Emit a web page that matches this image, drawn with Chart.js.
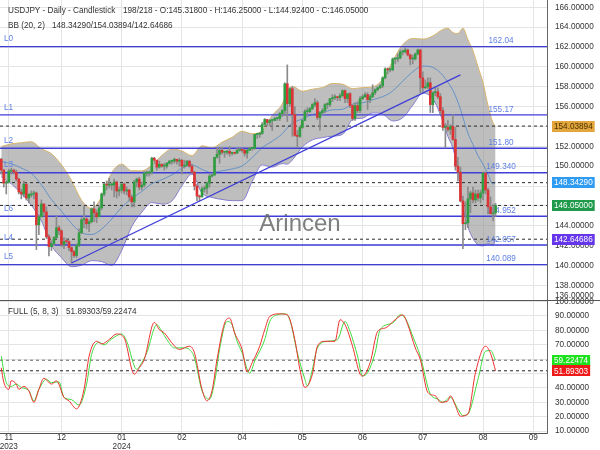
<!DOCTYPE html>
<html>
<head>
<meta charset="utf-8">
<title>USDJPY Daily Candlestick</title>
<script src="https://cdn.jsdelivr.net/npm/chart.js@4.4.1/dist/chart.umd.min.js"></script>
<style>
html,body{margin:0;padding:0;background:#ffffff;overflow:hidden;}
#c{display:block;}
</style>
</head>
<body>
<canvas id="c" width="600" height="450"></canvas>
<script>
// ---------------- DATA ----------------
const symbolTitle = "USDJPY - Daily - Candlestick";
const totalSlots = 218;

const opens = [
150.7,149.6,148.3,148.4,149.5,149.6,149.4,148.7,147.4,147.2,
148.2,146.8,147.1,147.2,147.3,144.1,144.9,146.2,145.4,142.9,
141.9,142.2,142.8,143.8,143.5,142.1,142.5,142.4,141.8,141.4,
141.0,142.0,143.3,144.6,144.7,144.2,144.4,145.7,145.3,144.9,
145.8,147.2,148.2,148.1,148.1,148.1,148.4,147.5,147.6,148.2,
147.5,147.6,146.9,146.4,148.4,148.7,147.9,148.1,149.3,149.3,
149.4,150.8,150.6,149.9,150.2,150.0,150.0,150.3,150.5,150.5,
150.7,150.5,150.6,150.0,150.1,150.5,150.0,149.4,148.0,147.0,
146.9,147.7,147.8,148.3,149.0,149.1,150.9,151.2,151.6,151.4,
151.4,151.5,151.3,151.35,151.3,151.6,151.65,151.6,151.3,151.6,
151.8,151.8,153.2,153.2,153.3,154.2,154.7,154.4,154.6,154.6,
154.8,154.8,155.3,155.6,158.3,156.3,157.8,155.2,153.1,153.0,
153.9,154.6,155.5,155.5,155.8,156.2,156.4,154.9,155.4,155.6,
156.2,156.2,156.8,156.9,157.0,156.9,157.1,157.6,156.8,157.3,
156.1,154.8,156.1,155.6,156.8,157.0,157.2,156.7,157.0,157.4,
157.7,157.9,158.1,158.9,159.8,159.7,159.7,160.8,160.8,160.9,
161.5,161.5,161.7,161.2,160.8,160.8,161.3,161.7,158.9,157.9,
158.0,158.4,156.2,157.4,157.5,157.0,155.6,153.9,153.9,153.7,
154.0,152.7,150.0,149.4,146.5,144.2,144.3,146.7,147.3,146.6,
147.2,146.8,147.3,149.3,147.6,145.9,145.2,145.318];

const highs = [
150.8,149.7,148.5,149.7,149.8,149.7,149.6,148.8,147.7,148.5,
148.3,147.2,147.5,147.5,147.4,145.1,146.6,146.2,145.9,143.1,
142.5,142.9,144.95,144.0,143.6,142.8,142.7,142.5,141.9,141.5,
142.2,143.7,144.8,145.98,144.8,144.6,145.8,146.4,145.6,146.0,
147.3,148.3,148.5,148.8,148.3,148.7,148.5,147.9,148.2,148.3,
147.9,147.7,147.1,148.6,148.8,148.9,148.4,149.5,149.5,149.5,
150.9,150.9,150.6,150.5,150.2,150.3,150.4,150.6,150.6,150.8,
150.7,150.8,150.7,150.6,150.6,150.6,150.2,149.5,148.2,147.1,
147.9,148.0,148.4,149.2,149.2,150.9,151.8,151.9,151.9,151.5,
151.6,151.97,151.4,151.4,151.8,151.8,151.8,151.7,151.7,151.9,
151.9,153.2,153.3,153.4,154.4,154.8,154.7,154.7,154.7,154.9,
154.9,155.4,155.7,158.4,160.2,157.9,158.0,156.0,153.6,154.0,
154.7,155.7,155.9,155.9,156.3,156.8,156.6,155.5,155.8,156.3,
156.4,156.8,157.2,157.2,157.0,157.3,157.7,157.7,157.3,157.4,
156.2,156.4,156.5,157.0,157.2,157.4,157.4,157.2,158.2,157.8,
158.0,158.2,159.0,159.9,159.9,159.9,160.9,160.9,161.3,161.7,
161.7,161.95,161.8,161.3,161.2,161.4,161.8,161.8,159.5,158.7,
158.9,158.9,157.5,157.9,157.9,157.3,155.9,154.3,154.6,154.2,
155.2,153.9,150.9,149.9,147.0,146.4,147.9,147.5,147.9,147.6,
147.6,147.6,149.4,149.4,147.8,146.9,146.1,146.25];

const lows = [
149.2,147.9,147.2,148.3,149.2,149.2,148.5,147.2,146.7,146.9,
146.6,146.3,146.9,146.7,141.6,143.1,144.9,145.0,142.7,140.97,
141.5,142.0,142.7,143.1,141.9,141.7,142.2,141.5,140.25,140.8,
140.8,141.9,143.2,143.8,143.7,143.4,144.3,144.4,144.3,144.9,
145.6,147.0,147.6,147.8,147.6,146.9,146.8,147.0,147.3,147.2,
147.1,146.5,145.9,145.9,147.9,147.6,147.6,147.9,149.0,149.0,
149.2,150.3,149.6,149.8,149.9,149.6,149.8,150.2,150.2,150.3,
150.2,150.0,149.2,149.8,150.0,149.9,149.3,147.6,146.5,146.5,
146.9,147.4,147.2,147.9,148.9,149.1,150.8,150.3,151.2,150.9,
151.2,151.0,151.1,151.2,151.3,151.5,151.4,151.0,150.8,151.6,
151.6,151.7,152.8,152.9,153.2,154.1,154.1,154.1,153.6,154.6,
154.6,154.6,155.0,155.1,154.5,156.0,153.0,153.0,151.9,152.9,
153.8,154.6,155.1,155.4,155.7,156.0,154.7,153.6,155.2,155.4,
155.8,156.0,156.5,156.7,156.6,156.6,157.0,156.4,156.4,155.9,
154.6,154.6,155.4,155.4,156.7,156.9,155.7,156.4,156.9,157.2,
157.6,157.8,157.9,158.8,159.3,159.5,159.6,160.3,160.5,160.8,
161.2,161.4,161.1,160.2,160.3,160.7,161.2,157.4,157.4,157.8,
157.8,155.4,155.4,157.1,156.8,155.2,153.6,151.9,153.5,153.2,
152.6,149.6,148.5,146.4,141.7,143.6,143.8,145.3,146.3,146.3,
146.5,146.3,146.6,147.2,145.2,145.2,144.5,144.924];

const closes = [
149.6,148.3,148.4,149.5,149.6,149.4,148.7,147.4,147.2,148.2,
146.8,147.2,147.2,147.3,144.1,144.9,146.2,145.4,142.9,141.9,
142.2,142.8,143.8,143.5,142.1,142.4,142.4,141.8,141.4,141.0,
142.0,143.3,144.6,144.7,144.2,144.4,145.7,145.3,144.9,145.8,
147.2,148.2,148.1,148.1,148.1,148.4,147.5,147.6,148.2,147.5,
147.6,146.9,146.4,148.4,148.7,147.9,148.1,149.3,149.3,149.4,
150.8,150.6,149.9,150.2,150.0,150.0,150.3,150.5,150.5,150.7,
150.5,150.6,150.0,150.1,150.5,150.0,149.4,148.0,147.0,146.9,
147.7,147.8,148.3,149.0,149.1,150.9,151.2,151.6,151.4,151.4,
151.5,151.3,151.3,151.3,151.6,151.6,151.6,151.3,151.6,151.8,
151.8,153.2,153.2,153.3,154.2,154.7,154.4,154.6,154.6,154.8,
154.8,155.3,155.6,158.3,156.3,157.8,155.2,153.1,153.0,153.9,
154.6,155.5,155.5,155.8,156.2,156.4,154.9,155.4,155.6,156.2,
156.2,156.8,156.9,157.0,156.9,157.1,157.6,156.8,157.3,156.1,
154.8,156.1,155.6,156.8,157.0,157.2,156.7,157.0,157.4,157.7,
157.9,158.1,158.9,159.8,159.7,159.7,160.8,160.8,160.9,161.5,
161.5,161.7,161.2,160.8,160.8,161.3,161.7,158.9,157.9,158.0,
158.4,156.2,157.4,157.5,157.0,155.6,153.9,153.9,153.7,154.0,
152.7,150.0,149.4,146.5,144.2,144.3,146.7,147.3,146.6,147.2,
146.8,147.3,149.3,147.6,145.9,145.2,145.3,146.05];

const bbIdx = [0,4,8,12,16,20,24,28,32,36,40,44,48,52,56,60,64,68,72,76,80,84,88,92,96,100,104,108,112,114,116,120,124,128,132,136,140,144,148,152,156,160,164,168,172,176,178,180,182,184,186,188,190,192,194,196,197];
const bbUpper = [151.98,152.25,152.36,152.46,151.75,151.25,150.13,148.57,146.57,145.75,146.92,149.34,150.20,149.54,149.53,150.11,151.08,151.73,151.54,151.06,152.05,151.84,152.42,152.91,153.52,153.27,153.57,155.12,156.27,157.49,158.05,157.55,157.75,157.92,158.33,158.26,157.81,157.91,157.98,158.75,160.58,162.24,162.87,162.80,163.12,163.77,163.89,163.45,163.36,163.88,162.73,161.62,160.01,158.41,156.09,154.35,154.03894];
const bbMid = [150.46,150.24,149.81,149.27,148.12,146.64,145.46,144.23,143.30,143.12,143.66,144.68,145.86,146.74,147.45,148.23,148.64,149.12,149.79,150.13,149.67,149.35,149.54,149.72,150.03,150.87,151.86,152.52,153.27,153.85,154.34,154.75,155.20,155.40,155.68,155.73,156.25,156.38,156.68,157.00,157.57,158.56,159.51,160.08,159.95,159.15,158.45,157.63,156.46,154.91,153.31,152.17,151.05,150.20,149.15,148.20,148.34290];
const bbLower = [148.93,148.22,147.25,146.07,144.49,142.03,140.79,139.88,140.03,140.49,140.40,140.01,141.52,143.93,145.36,146.34,146.19,146.50,148.03,149.20,147.29,146.85,146.65,146.53,146.53,148.47,150.14,149.91,150.26,150.21,150.63,151.94,152.65,152.88,153.03,153.20,154.69,154.84,155.37,155.25,154.56,154.87,156.14,157.36,156.78,154.53,153.00,151.81,149.55,145.94,143.89,142.72,142.08,141.98,142.20,142.04,142.64686];

// Horizontal levels
const levelNames  = ['L0','L1','L2','L3','L6','L4','L5'];
const levelValues = [162.04,155.17,151.80,149.340,144.952,142.057,140.089];
const levelTexts  = ['162.04','155.17','151.80','149.340','144.952','142.057','140.089'];

// Trend line (bar index, price)
const trendIdx  = [28,183];
const trendVals = [140.25,159.2];

// Full Stochastic (5, 8, 3)
const stochKIdx = [0,1,3,4,6,7,9,11,13,15,17,20,22,25,27,30,33,35,38,40,43,46,49,53,55,57,61,63,65,68,71,75,77,80,82,84,86,89,91,93,96,98,100,103,105,107,111,114,117,119,121,124,126,129,133,135,137,140,143,144,147,150,153,157,160,162,165,167,170,173,175,178,179,181,183,186,189,193,195,197];
const stochK = [54,44,39,45,42.6,39,41,38,30,39,46.7,42.6,44.9,33.4,31,25.4,39,62,72.4,70.6,73.6,77.5,74.7,49.5,54,59.8,85.5,80.5,78.2,71.3,66.7,69,64.4,39,31,38,59.8,85,88.5,78.2,66.7,51,57.5,69,80.5,89.7,91.5,90.8,73.6,53,40.3,49.5,69,72.4,72.4,87.4,84,69,49.5,48.3,57.5,79.3,81.6,87.4,90.8,84,67.8,59.8,36.8,34.5,30,31,34.5,27.6,20.3,21.9,50.6,69,64,51.89303];
const stochDIdx = [0,2,4,6,8,11,13,15,18,20,23,25,28,31,34,36,39,41,44,48,50,54,56,58,62,64,66,69,73,75,77,80,83,85,87,90,92,94,96,99,101,105,107,110,113,115,118,121,122,124,126,130,134,137,139,142,144,146,149,151,156,159,161,164,167,171,174,176,179,182,184,186,190,193,195,197];
const stochD = [62,43.7,41,42.6,40.3,38,31,39,46,43.7,44.2,33.4,31.8,28,42.6,63.2,71.7,70,74,77.5,72.4,52.9,57.5,64.4,83.9,79.3,73.6,67.8,67.8,66.7,61,38,32.2,43.7,66.7,86.2,83.9,72.4,64.4,50.2,58.6,73.6,86.2,90.8,91.5,87.4,64.4,46,41.4,52.9,67.8,72.4,73.6,86.2,79.3,62.1,48.3,50.6,64.4,80.5,85.1,90.8,88.5,75.9,62.1,35.7,32.2,30,33.4,25.4,20.8,21.9,46,65.5,66,59.22474];

// Axis ticks
const priceTicks = [138,140,142,144,146,148,150,152,154,156,158,160,162,164,166];
const priceBottomTickLabel = 136;
const stochTicks = [10,20,30,40,50,60,70,80,90,100];
const xTickIdx = [3,24,48,72,96,120,144,168,192,212];
const xTickLabels = [['11','2023'],['12'],['01','2024'],['02'],['04'],['05'],['06'],['07'],['08'],['09']];
const watermark = 'Arincen';

// ---------------- STYLE ----------------
const FONT = "'Liberation Sans', Arial, Helvetica, sans-serif";
const FS = 8.2;
const UP = '#2f9e41', DOWN = '#dc3434', WICK = '#8a8a8a';
const LEVEL = '#3f3fd8', LEVEL_TXT = '#5f80e4';
const GRID = '#e4e4e4';

const N = closes.length;
const last = N - 1;
const pts = (idx, vals) => idx.map((x, k) => ({x: x, y: vals[k]}));
const hline = v => [{x: -0.5, y: v}, {x: totalSlots - 0.5, y: v}];

const datasets = [];
datasets.push({type:'line', label:'bbUpper', data: pts(bbIdx, bbUpper), borderColor:'#d9b46a', borderWidth:1,
  backgroundColor:'rgba(150,150,150,0.62)', fill:'+1', pointRadius:0, cubicInterpolationMode:'monotone', order:20, yAxisID:'y'});
datasets.push({type:'line', label:'bbLower', data: pts(bbIdx, bbLower), borderColor:'#7a70e6', borderWidth:1,
  fill:false, pointRadius:0, cubicInterpolationMode:'monotone', order:20, yAxisID:'y'});
datasets.push({type:'line', label:'bbMid', data: pts(bbIdx, bbMid), borderColor:'#4f86c6', borderWidth:0.8,
  fill:false, pointRadius:0, cubicInterpolationMode:'monotone', order:19, yAxisID:'y'});
levelValues.forEach((v, k) => datasets.push({type:'line', label:'level'+k, data: hline(v), borderColor: LEVEL,
  borderWidth:1.4, pointRadius:0, fill:false, order:8, yAxisID:'y'}));
const dashedPrice = [bbUpper[bbUpper.length-1], bbMid[bbMid.length-1], closes[last], bbLower[bbLower.length-1]];
dashedPrice.forEach((v, k) => datasets.push({type:'line', label:'dash'+k, data: hline(v), borderColor:'#2a2a2a',
  borderWidth:1, borderDash:[3,3], pointRadius:0, fill:false, order:8, yAxisID:'y'}));
datasets.push({type:'bar', label:'wicks', data: closes.map((c, i) => ({x: i, y: [lows[i], highs[i]]})),
  backgroundColor: WICK, barThickness:1, grouped:false, order:4, yAxisID:'y'});
datasets.push({type:'bar', label:'bodies', data: closes.map((c, i) => ({x: i, y: [opens[i], c]})),
  backgroundColor: closes.map((c, i) => c >= opens[i] ? UP : DOWN), barThickness:2, minBarLength:1,
  grouped:false, order:3, yAxisID:'y'});
datasets.push({type:'line', label:'trend', data: pts(trendIdx, trendVals), borderColor: LEVEL, borderWidth:1.3,
  pointRadius:0, fill:false, order:2, yAxisID:'y'});
const kLast = stochK[stochK.length-1], dLast = stochD[stochD.length-1];
datasets.push({type:'line', label:'dashD', data: hline(dLast), borderColor:'#666', borderWidth:1, borderDash:[3,3],
  pointRadius:0, fill:false, order:6, yAxisID:'y2'});
datasets.push({type:'line', label:'dashK', data: hline(kLast), borderColor:'#222', borderWidth:1, borderDash:[3,3],
  pointRadius:0, fill:false, order:6, yAxisID:'y2'});
datasets.push({type:'line', label:'stochD', data: pts(stochDIdx, stochD), borderColor:'#3ddc3d', borderWidth:1,
  pointRadius:0, fill:false, cubicInterpolationMode:'monotone', order:1, yAxisID:'y2'});
datasets.push({type:'line', label:'stochK', data: pts(stochKIdx, stochK), borderColor:'#f03030', borderWidth:1,
  pointRadius:0, fill:false, cubicInterpolationMode:'monotone', order:0, yAxisID:'y2'});

function drawBox(ctx, x, y, text, bg, fg) {
  ctx.font = FS + 'px ' + FONT;
  const w = ctx.measureText(text).width + 4;
  ctx.fillStyle = bg;
  ctx.fillRect(x, Math.round(y - 5.5), w, 11);
  ctx.fillStyle = fg;
  ctx.textAlign = 'left';
  ctx.textBaseline = 'middle';
  ctx.fillText(text, x + 2, y + 0.5);
}

const overlay = {
  id: 'overlay',
  beforeDatasetDraw(chart, args) {
    if (chart.data.datasets[args.index].label !== 'wicks') return;
    const ctx = chart.ctx, y = chart.scales.y, area = chart.chartArea;
    ctx.save();
    ctx.font = '24px ' + FONT;
    ctx.fillStyle = 'rgba(105,105,105,0.85)';
    ctx.textAlign = 'center';
    ctx.textBaseline = 'middle';
    ctx.fillText(watermark, 300, 224);
    ctx.font = FS + 'px ' + FONT;
    ctx.fillStyle = LEVEL_TXT;
    levelValues.forEach((v, k) => {
      const py = y.getPixelForValue(v);
      ctx.textAlign = 'left';
      ctx.fillText(levelNames[k], 4, py - 7.5);
      ctx.textAlign = 'center';
      ctx.fillText(levelTexts[k], area.right - 46, py - 5.5);
    });
    ctx.restore();
  },
  afterDraw(chart) {
    const ctx = chart.ctx, y = chart.scales.y, y2 = chart.scales.y2, area = chart.chartArea;
    ctx.save();
    ctx.strokeStyle = '#555';
    ctx.lineWidth = 1;
    ctx.beginPath();
    const sy = Math.round(y.bottom) + 0.5;
    ctx.moveTo(0, sy); ctx.lineTo(chart.width, sy);
    ctx.stroke();
    ctx.font = FS + 'px ' + FONT;
    ctx.fillStyle = '#333';
    ctx.textAlign = 'left';
    ctx.textBaseline = 'middle';
    ctx.fillText(symbolTitle, 8, 11);
    ctx.fillText(N + '/' + totalSlots + ' - O:' + opens[last].toFixed(5) + ' - H:' + highs[last].toFixed(5) +
      ' - L:' + lows[last].toFixed(5) + ' - C:' + closes[last].toFixed(5), 123, 11);
    ctx.fillText('BB (20, 2)', 8, 26);
    ctx.fillText(bbMid[bbMid.length-1].toFixed(5) + '/' + bbUpper[bbUpper.length-1].toFixed(5) + '/' +
      bbLower[bbLower.length-1].toFixed(5), 52, 26);
    ctx.fillText('FULL (5, 8, 3)', 8, 312);
    ctx.fillText(kLast.toFixed(5) + '/' + dLast.toFixed(5), 66, 312);
    const bx = area.right + 5;
    drawBox(ctx, bx, y.getPixelForValue(dashedPrice[0]), dashedPrice[0].toFixed(5), '#e3a63d', '#4a3300');
    drawBox(ctx, bx, y.getPixelForValue(dashedPrice[1]), dashedPrice[1].toFixed(5), '#2f9bf2', '#ffffff');
    drawBox(ctx, bx, y.getPixelForValue(dashedPrice[2]), dashedPrice[2].toFixed(5), '#1f9a4a', '#ffffff');
    drawBox(ctx, bx, y.getPixelForValue(dashedPrice[3]), dashedPrice[3].toFixed(5), '#6636ec', '#ffffff');
    drawBox(ctx, bx, y2.getPixelForValue(dLast), dLast.toFixed(5), '#1ee21e', '#ffffff');
    drawBox(ctx, bx, y2.getPixelForValue(kLast), kLast.toFixed(5), '#ee1a1a', '#ffffff');
    ctx.restore();
  }
};

const tickFont = {size: FS, family: FONT, lineHeight: 1.0};

new Chart(document.getElementById('c').getContext('2d'), {
  type: 'line',
  data: {datasets: datasets},
  options: {
    responsive: false,
    animation: false,
    devicePixelRatio: 1,
    events: [],
    layout: {padding: 0},
    plugins: {legend: {display: false}, tooltip: {enabled: false}, title: {display: false}},
    scales: {
      x: {
        type: 'linear', position: 'bottom', min: -0.5, max: totalSlots - 0.5, offset: false,
        afterBuildTicks: s => { s.ticks = xTickIdx.map(v => ({value: v})); },
        afterFit: s => { s.height = 17; s.paddingLeft = 0; s.paddingRight = 0; },
        ticks: {autoSkip: false, maxRotation: 0, padding: 1, color: '#333', font: tickFont,
          callback: v => xTickLabels[xTickIdx.indexOf(v)]},
        grid: {color: GRID, drawTicks: false, offset: false},
        border: {display: true, color: '#555'}
      },
      y: {
        type: 'linear', position: 'right', stack: 'panels', stackWeight: 300,
        min: 136.524, max: 166.735,
        afterBuildTicks: s => { s.ticks = [{value: 136.93}].concat(priceTicks.map(v => ({value: v}))); },
        afterFit: s => { s.width = 53; s.paddingTop = 0; s.paddingBottom = 0; },
        ticks: {autoSkip: false, padding: 8, color: '#333', font: tickFont,
          callback: v => (v < priceTicks[0] ? priceBottomTickLabel : v).toFixed(5)},
        grid: {color: c => (c.tick && c.tick.value < priceTicks[0]) ? 'rgba(0,0,0,0)' : GRID, drawTicks: false},
        border: {display: true, color: '#666'}
      },
      y2: {
        type: 'linear', position: 'right', stack: 'panels', stackWeight: 133,
        min: 8.609, max: 101.13,
        afterBuildTicks: s => { s.ticks = stochTicks.map(v => ({value: v})); },
        afterFit: s => { s.width = 53; s.paddingTop = 0; s.paddingBottom = 0; },
        ticks: {autoSkip: false, padding: 8, color: '#333', font: tickFont, callback: v => v.toFixed(5)},
        grid: {color: GRID, drawTicks: false},
        border: {display: true, color: '#666'}
      }
    }
  },
  plugins: [overlay]
});
</script>
</body>
</html>
